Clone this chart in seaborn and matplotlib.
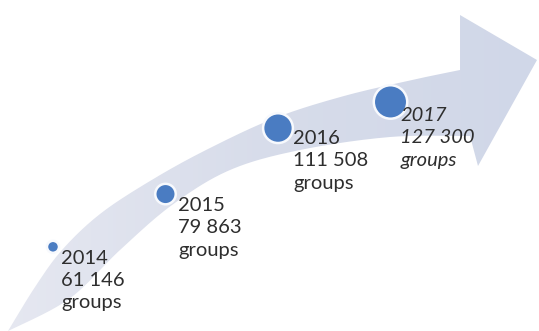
import numpy as np
import pandas as pd
import matplotlib
matplotlib.use("Agg")
import matplotlib.pyplot as plt
from matplotlib.path import Path
from matplotlib.patches import PathPatch
from matplotlib.colors import LinearSegmentedColormap
import seaborn as sns

# ---- data ----
years = [2014, 2015, 2016, 2017]
groups = [61146, 79863, 111508, 127300]
unit = "groups"

# ---- styles ----
label_offsets_px = [(8, 3), (13, 3), (15, 2), (10, 5)]
label_italic = [False, False, False, True]

sns.set_theme(style="white")
plt.rcParams['font.family'] = ['Lato', 'DejaVu Sans']

W, H = 539, 331
fig = plt.figure(figsize=(W / 100, H / 100), dpi=100)
fig.patch.set_facecolor("white")

# ---- decorative curved arrow (pixel coordinates) ----
bg = fig.add_axes([0, 0, 1, 1])
bg.set_xlim(0, W)
bg.set_ylim(H, 0)
bg.axis("off")


def catmull(pts, n=20):
    pts = np.asarray(pts, float)
    P = np.vstack([pts[0], pts, pts[-1]])
    out = []
    for i in range(1, len(P) - 2):
        p0, p1, p2, p3 = P[i - 1], P[i], P[i + 1], P[i + 2]
        for t in np.linspace(0, 1, n, endpoint=False):
            t2, t3 = t * t, t * t * t
            out.append(0.5 * ((2 * p1) + (-p0 + p2) * t +
                              (2 * p0 - 5 * p1 + 4 * p2 - p3) * t2 +
                              (-p0 + 3 * p1 - 3 * p2 + p3) * t3))
    out.append(P[-2])
    return np.array(out)


upper = catmull([(8, 331), (35, 287), (62, 250), (100, 214), (150, 181),
                 (206, 150), (275, 118), (344, 96), (412, 80), (460, 70)])
head = np.array([(460, 15), (537, 60), (478, 166), (470, 136)])
lower = catmull([(470, 136), (390, 137), (300, 150), (230, 170), (172, 205),
                 (120, 250), (69, 299), (8, 331)])
outline = np.vstack([upper, head, lower])
path = Path(outline, closed=False)
patch = PathPatch(path, facecolor="none", edgecolor="none")
bg.add_patch(patch)
cmap = LinearSegmentedColormap.from_list("arrow", ["#e6e8f1", "#d7dcea", "#d0d7e8"])
grad = np.linspace(0, 1, 256).reshape(1, -1)
im = bg.imshow(grad, cmap=cmap, extent=[0, W, H, 0], aspect="auto", zorder=1)
im.set_clip_path(patch)

# ---- data layer ----
ax = fig.add_axes([0, 0, 1, 1])
ax.patch.set_alpha(0)
df = pd.DataFrame({"year": years, "groups": groups})
ax.set_yscale("log")
sns.scatterplot(data=df, x="year", y="groups", size="groups", sizes=(75, 580),
                legend=False, color="#4a7cc2", edgecolor="#f7f9fd", linewidth=1.8,
                ax=ax, zorder=3)
ax.set_xlim(2013.529, 2018.32)
ax.set_ylim(10 ** 4.6013, 10 ** 5.3290)
ax.axis("off")

for yr, g, (dx, dy), it in zip(years, groups, label_offsets_px, label_italic):
    txt = f"{yr}\n{g:,}".replace(",", " ") + f"\n{unit}"
    ax.annotate(txt, (yr, g), xytext=(dx * 0.72, -dy * 0.72),
                textcoords="offset points", ha="left", va="top",
                fontsize=14.5, color="#2e2e2e", linespacing=1.38,
                style="italic" if it else "normal", zorder=4)

fig.savefig("out.png", dpi=100, facecolor="white")
